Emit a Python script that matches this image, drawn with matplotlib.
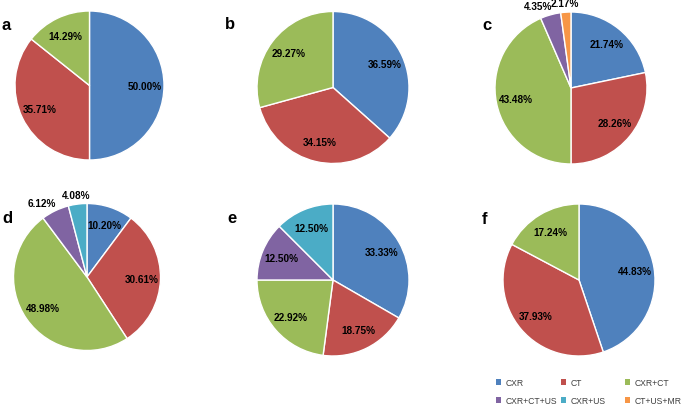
import matplotlib
matplotlib.use("Agg")
import matplotlib.pyplot as plt
import numpy as np
from matplotlib.patches import Patch

W, H = 684, 406

categories = ['CXR', 'CT', 'CXR+CT', 'CXR+CT+US', 'CXR+US', 'CT+US+MR']
colors = ['#4F81BD', '#C0504D', '#9BBB59', '#8064A2', '#4BACC6', '#F79646']

# values per panel (index into categories)
a_idx = [0, 1, 2]
a_vals = [50.00, 35.71, 14.29]
b_idx = [0, 1, 2]
b_vals = [36.59, 34.15, 29.27]
c_idx = [0, 1, 2, 3, 5]
c_vals = [21.74, 28.26, 43.48, 4.35, 2.17]
d_idx = [0, 1, 2, 3, 4]
d_vals = [10.20, 30.61, 48.98, 6.12, 4.08]
e_idx = [0, 1, 2, 3, 4]
e_vals = [33.33, 18.75, 22.92, 12.50, 12.50]
f_idx = [0, 1, 2]
f_vals = [44.83, 37.93, 17.24]

panels = [
    ('a', a_idx, a_vals, (89.5, 86.5, 74.5), (2, 30)),
    ('b', b_idx, b_vals, (333, 88.5, 76), (225, 29)),
    ('c', c_idx, c_vals, (571, 89, 76), (482, 30.5)),
    ('d', d_idx, d_vals, (87, 278, 73.5), (2, 223)),
    ('e', e_idx, e_vals, (333, 281, 76), (227, 223)),
    ('f', f_idx, f_vals, (579, 281, 76), (482, 224)),
]

fig = plt.figure(figsize=(W / 100, H / 100), dpi=100)
m = 1.03

for letter, idx, vals, (cx, cy, r), (lx, ly) in panels:
    rr = r * m
    ax = fig.add_axes([(cx - rr) / W, 1 - (cy + rr) / H, 2 * rr / W, 2 * rr / H])
    wedges, texts, autotexts = ax.pie(
        vals, colors=[colors[i] for i in idx], startangle=90, counterclock=False,
        autopct='%.2f%%', pctdistance=0.74,
        wedgeprops=dict(edgecolor='white', linewidth=1.0),
        textprops=dict(fontsize=7.2, fontweight='bold', family='Liberation Sans', color='black'))
    # small slices get their label outside the pie
    small = [k for k, v in enumerate(vals) if v < 7]
    for n, k in enumerate(small):
        w = wedges[k]
        ang = np.deg2rad((w.theta1 + w.theta2) / 2)
        dist = 1.12
        shift = -0.13 if (len(small) > 1 and n == 0) else 0.0
        autotexts[k].set_position((dist * np.cos(ang) + shift, dist * np.sin(ang)))
    ax.set_xlim(-m, m)
    ax.set_ylim(-m, m)
    ax.set_aspect('equal')
    ax.axis('off')
    fig.text(lx / W, 1 - ly / H, letter, fontsize=12, fontweight='bold',
             family='Liberation Sans', ha='left', va='baseline')

# legend, row-wise like the original, one column per legend
col_x = [495.5, 560.5, 624.5]
for c in range(3):
    items = [c, c + 3]
    handles = [Patch(facecolor=colors[i], edgecolor='none') for i in items]
    fig.legend(handles, [categories[i] for i in items], loc='upper left',
               bbox_to_anchor=(col_x[c] / W, 1 - 379 / H), frameon=False,
               prop=dict(family='Liberation Sans', size=6.2),
               handlelength=0.6, handleheight=0.6, handletextpad=0.55,
               labelspacing=1.05, borderpad=0, borderaxespad=0, labelcolor='#404040')

fig.savefig('out.png', dpi=100)
